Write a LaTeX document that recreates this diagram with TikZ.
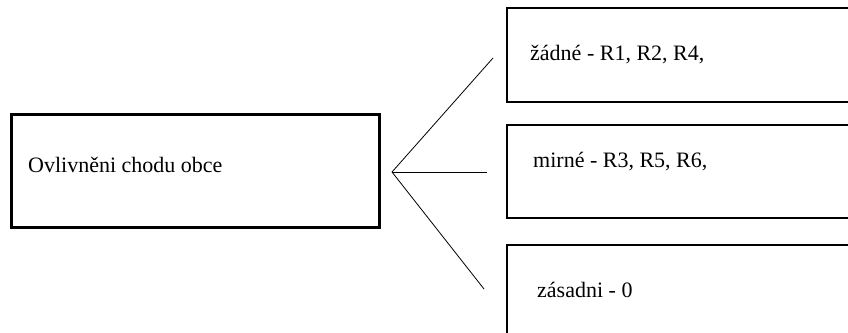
\documentclass[tikz,border=0pt]{standalone}
\usepackage{fontspec}
\setmainfont{Liberation Serif}
\begin{document}
\begin{tikzpicture}[x=1pt,y=-1pt,
  lbl/.style={anchor=base west,inner sep=0pt,font=\fontsize{22}{26}\selectfont},
  vetev/.style={line width=0.8pt}]
\useasboundingbox (0,0) rectangle (848,332);
\clip (0,0) rectangle (848,332);
% left box
\draw[line width=3pt] (11,114) rectangle (379,227.5);
\node[lbl] (obec) at (28,172.5) {Ovlivněni chodu obce};
% right boxes (cut by the edge)
\draw[line width=1.3pt] (507,8) rectangle (860,102);
\draw[line width=1.3pt] (507,125) rectangle (860,218);
\draw[line width=1.3pt] (507,245) rectangle (860,345);
\node[lbl] (zadne) at (530,60) {žádné - R1, R2, R4,};
\node[lbl] (mirne) at (533,167) {mirné - R3, R5, R6,};
\node[lbl] (zasadni) at (537,297) {zásadni - 0};
% branches
\coordinate (hub) at (392,172);
\coordinate (k1) at (493,58);
\coordinate (k2) at (487,172);
\coordinate (k3) at (484,289);
\draw[vetev] (hub)--(k1);
\draw[vetev] (hub)--(k2);
\draw[vetev] (hub)--(k3);
\end{tikzpicture}
\end{document}
